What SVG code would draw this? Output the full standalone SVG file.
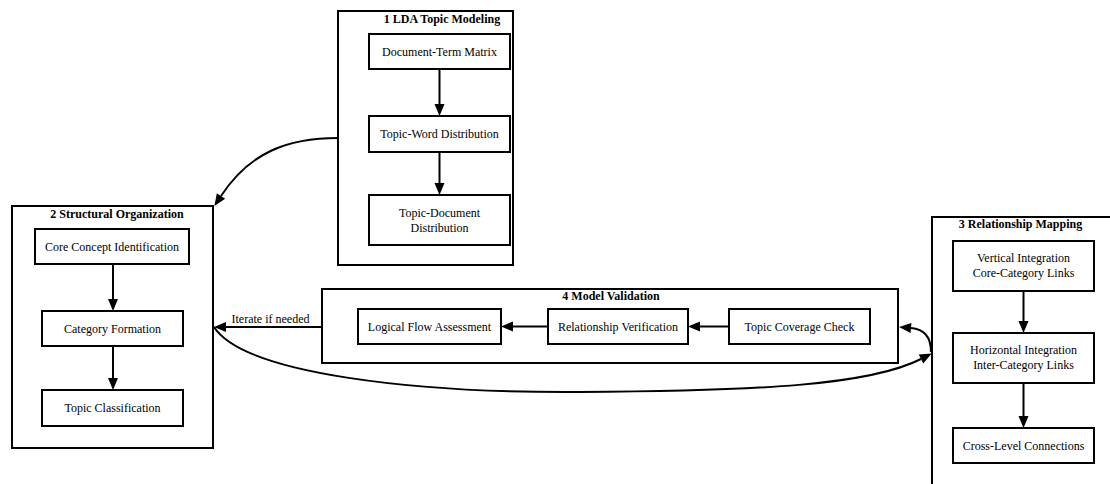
<svg xmlns="http://www.w3.org/2000/svg" width="1110" height="484" viewBox="0 0 1110 484">
  <style>
    .cluster { fill: none; stroke: #000; stroke-width: 2; }
    .node rect { fill: #fff; stroke: #000; stroke-width: 2; }
    .title { font-family: "Liberation Serif", "Times New Roman", serif; font-size: 12px; font-weight: bold; text-anchor: middle; fill: #000; }
    .label { font-family: "Liberation Serif", "Times New Roman", serif; font-size: 12px; text-anchor: middle; fill: #000; }
    .edge { fill: none; stroke: #000; stroke-width: 2; }
  </style>
  <defs>
    <marker id="arrow" markerUnits="userSpaceOnUse" markerWidth="12" markerHeight="10" refX="0" refY="5" orient="auto" overflow="visible">
      <path d="M0,0 L12,5 L0,10 z" fill="#000"/>
    </marker>
  </defs>
  <rect width="1110" height="484" fill="#fff"/>

  <!-- 1 LDA Topic Modeling -->
  <g id="cluster1">
    <rect class="cluster" x="338" y="11" width="175" height="254"/>
    <text class="title" x="442" y="23">1 LDA Topic Modeling</text>
  </g>
  <g id="doc_term" class="node">
    <rect x="369" y="34" width="141" height="35"/>
    <text class="label" x="439.5" y="55.5">Document-Term Matrix</text>
  </g>
  <g id="topic_word" class="node">
    <rect x="369" y="116" width="141" height="36"/>
    <text class="label" x="439.5" y="138">Topic-Word Distribution</text>
  </g>
  <g id="topic_doc" class="node">
    <rect x="369" y="195" width="141" height="50"/>
    <text class="label" x="439.5" y="217">Topic-Document</text>
    <text class="label" x="439.5" y="232">Distribution</text>
  </g>

  <!-- 2 Structural Organization -->
  <g id="cluster2">
    <rect class="cluster" x="12" y="206" width="201" height="242"/>
    <text class="title" x="117" y="218">2 Structural Organization</text>
  </g>
  <g id="core_concept" class="node">
    <rect x="35" y="229" width="154" height="35"/>
    <text class="label" x="112" y="250.5">Core Concept Identification</text>
  </g>
  <g id="category" class="node">
    <rect x="42" y="311" width="141" height="35"/>
    <text class="label" x="112.5" y="332.5">Category Formation</text>
  </g>
  <g id="classification" class="node">
    <rect x="42" y="390" width="141" height="36"/>
    <text class="label" x="112.5" y="412">Topic Classification</text>
  </g>

  <!-- 4 Model Validation -->
  <g id="cluster4">
    <rect class="cluster" x="322" y="289" width="576" height="74"/>
    <text class="title" x="611" y="300">4 Model Validation</text>
  </g>
  <g id="logical_flow" class="node">
    <rect x="358" y="309" width="143" height="35"/>
    <text class="label" x="429.5" y="330.5">Logical Flow Assessment</text>
  </g>
  <g id="rel_verification" class="node">
    <rect x="548" y="309" width="140" height="35"/>
    <text class="label" x="618" y="330.5">Relationship Verification</text>
  </g>
  <g id="coverage" class="node">
    <rect x="729" y="309" width="141" height="35"/>
    <text class="label" x="799.5" y="330.5">Topic Coverage Check</text>
  </g>

  <!-- 3 Relationship Mapping -->
  <g id="cluster3">
    <rect class="cluster" x="932" y="217" width="200" height="290"/>
    <text class="title" x="1020.5" y="228">3 Relationship Mapping</text>
  </g>
  <g id="vertical" class="node">
    <rect x="953" y="241" width="141" height="50"/>
    <text class="label" x="1023.5" y="262">Vertical Integration</text>
    <text class="label" x="1023.5" y="277">Core-Category Links</text>
  </g>
  <g id="horizontal" class="node">
    <rect x="953" y="333" width="141" height="50"/>
    <text class="label" x="1023.5" y="354">Horizontal Integration</text>
    <text class="label" x="1023.5" y="369">Inter-Category Links</text>
  </g>
  <g id="cross_level" class="node">
    <rect x="953" y="428" width="141" height="35"/>
    <text class="label" x="1023.5" y="449.5">Cross-Level Connections</text>
  </g>

  <!-- connectors -->
  <g id="edges">
    <!-- inside cluster 1 -->
    <path class="edge" d="M439.5,69 V104" marker-end="url(#arrow)"/>
    <path class="edge" d="M439.5,152 V183" marker-end="url(#arrow)"/>
    <!-- inside cluster 2 -->
    <path class="edge" d="M113,264 V299" marker-end="url(#arrow)"/>
    <path class="edge" d="M113,346 V378" marker-end="url(#arrow)"/>
    <!-- inside cluster 3 -->
    <path class="edge" d="M1023.5,291 V321" marker-end="url(#arrow)"/>
    <path class="edge" d="M1023.5,383 V416" marker-end="url(#arrow)"/>
    <!-- inside cluster 4 -->
    <path class="edge" d="M729,326.5 H700" marker-end="url(#arrow)"/>
    <path class="edge" d="M548,326.5 H513" marker-end="url(#arrow)"/>
    <!-- between clusters -->
    <path class="edge" d="M338,138 C288,138 250,152 221,196" marker-end="url(#arrow)"/>
    <path class="edge" d="M322,327 H226" marker-end="url(#arrow)"/>
    <text class="label" x="270.5" y="323">Iterate if needed</text>
    <path class="edge" d="M214,327 C245,375 420,393 580,392 C760,391 870,385 921,359" marker-end="url(#arrow)"/>
    <path class="edge" d="M931,352 C931,336 924,329 911,328" marker-end="url(#arrow)"/>
  </g>
</svg>
